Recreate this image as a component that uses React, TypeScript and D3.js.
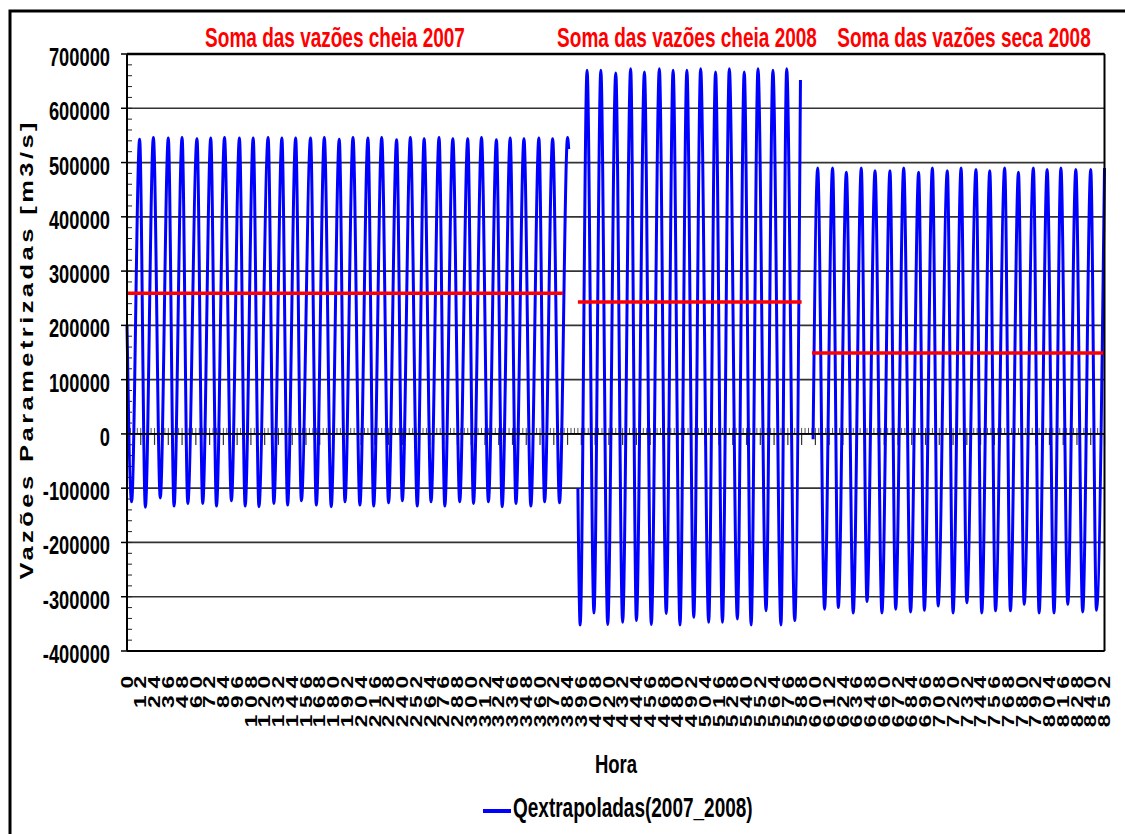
import React from 'react';
import * as d3 from 'd3';

const W = 1125;
const H = 834;
const FONT = '"Liberation Sans", Arial, Helvetica, sans-serif';

// turning points of the hourly flow series (hour, m3/s)
const CHEIA2007_HOURS = [
  0, 4, 11, 16, 23, 29, 36, 41, 48, 53, 61, 66, 73, 78, 85, 91, 98, 103, 110, 115, 123,
  128, 135, 140, 147, 152, 160, 165, 172, 178, 185, 190, 197, 203, 210, 215, 222, 228, 235,
  240, 247, 253, 259, 265, 272, 277, 284, 290, 297, 302, 309, 315, 322, 327, 334, 339, 346,
  352, 359, 364, 371, 377, 384, 385,
];
const CHEIA2007_VALUES = [
  200000, -125000, 543000, -135000, 546000, -118000, 545000, -133000, 546000, -128000, 544000,
  -128000, 545000, -133000, 546000, -123000, 545000, -133000, 545000, -134000, 546000,
  -128000, 545000, -131000, 545000, -123000, 545000, -131000, 546000, -134000, 543000,
  -125000, 546000, -131000, 545000, -133000, 546000, -127000, 542000, -123000, 546000,
  -133000, 544000, -125000, 546000, -133000, 544000, -125000, 544000, -128000, 546000,
  -125000, 542000, -134000, 545000, -128000, 544000, -133000, 545000, -125000, 544000,
  -127000, 546000, 525000,
];

const CHEIA2008_HOURS = [
  393, 395, 401, 407, 413, 419, 426, 432, 439, 444, 451, 457, 464, 470, 476, 482, 488,
  494, 500, 507, 513, 519, 525, 532, 538, 544, 550, 557, 563, 570, 575, 582, 587,
];
const CHEIA2008_VALUES = [
  -100000, -352000, 670000, -330000, 670000, -351000, 665000, -347000, 673000, -344000, 667000,
  -351000, 673000, -331000, 670000, -352000, 670000, -338000, 673000, -347000, 667000,
  -347000, 673000, -341000, 667000, -352000, 673000, -326000, 670000, -352000, 673000,
  -344000, 652000,
];

const SECA2008_HOURS = [
  598, 602, 608, 615, 620, 627, 633, 640, 645, 652, 658, 665, 670, 677, 683, 690, 695, 702,
  707, 715, 720, 727, 732, 740, 745, 752, 757, 765, 770, 777, 782, 790, 795, 802, 808, 814,
  820, 827, 833, 840, 845, 852,
];
const SECA2008_VALUES = [
  -10000, 490000, -323000, 490000, -320000, 482000, -330000, 490000, -309000, 485000, -330000,
  485000, -323000, 490000, -328000, 482000, -325000, 490000, -317000, 485000, -330000,
  490000, -311000, 487000, -330000, 485000, -326000, 490000, -326000, 482000, -314000,
  490000, -330000, 487000, -330000, 490000, -314000, 487000, -328000, 487000, -325000,
  490000,
];

// "Soma das vazões" levels (red lines)
const SOMA_LABELS = ['Soma das vazões cheia 2007', 'Soma das vazões cheia 2008', 'Soma das vazões seca 2008'];
const SOMA_VALUES = [259000, 243000, 149000];
const SOMA_START = [0, 393, 597];
const SOMA_END = [380, 588, 852];

const X_TICKS = [
  0, 12, 24, 36, 48, 60, 72, 84, 96, 108, 120, 132, 144, 156, 168, 180, 192, 204, 216, 228,
  240, 252, 264, 276, 288, 300, 312, 324, 336, 348, 360, 372, 384, 396, 408, 420, 432, 444,
  456, 468, 480, 492, 504, 516, 528, 540, 552, 564, 576, 588, 600, 612, 624, 636, 648, 660,
  672, 684, 696, 708, 720, 732, 744, 756, 768, 780, 792, 804, 816, 828, 840, 852,
];
const Y_TICKS = [700000, 600000, 500000, 400000, 300000, 200000, 100000, 0, -100000, -200000, -300000, -400000];

const SY = 1.42; // the original picture is stretched vertically

function SText({ x, y, size, anchor = 'start', fill = '#000', rotate = false, sy = SY, style, children }: any) {
  const t = rotate
    ? `translate(${x},${y}) scale(1,${sy}) rotate(-90)`
    : `translate(${x},${y}) scale(1,${sy})`;
  return (
    <text transform={t} fontSize={size} fontWeight="bold" fontFamily={FONT} textAnchor={anchor} fill={fill} style={style}>
      {children}
    </text>
  );
}

export default function App() {
  const left = 127, right = 1104.5, top = 54, bottom = 651;
  const x = d3.scaleLinear().domain([0, 852]).range([left, right]);
  const y = d3.scaleLinear().domain([-400000, 700000]).range([bottom, top]);

  const line = d3.line<[number, number]>()
    .x(d => x(d[0]))
    .y(d => y(d[1]))
    .curve(d3.curveMonotoneX);

  const segments = [
    d3.zip(CHEIA2007_HOURS, CHEIA2007_VALUES),
    d3.zip(CHEIA2008_HOURS, CHEIA2008_VALUES),
    d3.zip(SECA2008_HOURS, SECA2008_VALUES),
  ] as [number, number][][];

  const minorY = d3.range(-400000, 700001, 20000);
  const minorX = d3.range(0, 853, 3);
  const titleX = [335, 687, 964];

  return (
    <svg width={W} height={H} style={{ position: 'absolute', left: 0, top: 0, background: '#fff' }}>
      <rect x={10} y={11} width={1200} height={900} fill="none" stroke="#000" strokeWidth={3} />

      {/* gridlines */}
      {Y_TICKS.map(v => (
        <line key={v} x1={left} x2={right} y1={y(v)} y2={y(v)} stroke="#333" strokeWidth={1.7} />
      ))}

      {/* minor y ticks (inside) and major (outside) */}
      {minorY.map(v => (
        <line key={'m' + v} x1={left} x2={left + 5} y1={y(v)} y2={y(v)} stroke="#222" strokeWidth={1} />
      ))}
      {Y_TICKS.map(v => (
        <line key={'t' + v} x1={left - 6} x2={left} y1={y(v)} y2={y(v)} stroke="#000" strokeWidth={1.5} />
      ))}

      {/* category axis ticks on the zero line */}
      {minorX.map(h => (
        <line key={'x' + h} x1={x(h)} x2={x(h)} y1={y(0) - 6} y2={y(0)} stroke="#555" strokeWidth={1} />
      ))}
      {X_TICKS.map(h => (
        <line key={'xt' + h} x1={x(h)} x2={x(h)} y1={y(0)} y2={y(0) + 11} stroke="#333" strokeWidth={1.2} />
      ))}

      {/* series */}
      {segments.map((s, i) => (
        <path key={i} d={line(s) || ''} fill="none" stroke="#0000ff" strokeWidth={3} strokeLinejoin="round" />
      ))}

      {/* sums */}
      {SOMA_VALUES.map((v, i) => (
        <line key={'s' + i} x1={x(SOMA_START[i])} x2={x(SOMA_END[i])} y1={y(v)} y2={y(v)} stroke="#ff0000" strokeWidth={3.5} />
      ))}

      {/* frame of plot area */}
      <line x1={left} x2={right} y1={top} y2={top} stroke="#000" strokeWidth={2.5} />
      <line x1={right} x2={right} y1={top} y2={bottom} stroke="#000" strokeWidth={2} />
      <line x1={left} x2={right} y1={bottom} y2={bottom} stroke="#000" strokeWidth={2} />
      <line x1={left} x2={left} y1={top} y2={bottom} stroke="#000" strokeWidth={2} />
      <line x1={left} x2={right} y1={y(0)} y2={y(0)} stroke="#000" strokeWidth={1.6} />

      {/* y tick labels */}
      {Y_TICKS.map(v => (
        <SText key={'yl' + v} x={110} y={y(v) + 12} size={18.3} anchor="end">{v}</SText>
      ))}

      {/* x tick labels */}
      {X_TICKS.map(h => (
        <SText key={'xl' + h} x={x(h) + 5.7} y={669} size={16} anchor="end" rotate style={{ letterSpacing: '4.8px' }}>
          {h}
        </SText>
      ))}

      {/* titles */}
      {SOMA_LABELS.map((t, i) => (
        <SText key={'ti' + i} x={titleX[i]} y={47} size={19} anchor="middle" fill="#ff0000">{t}</SText>
      ))}

      <text
        transform={`translate(33,351) scale(1,${SY}) rotate(-90)`}
        fontSize={18}
        fontWeight="bold"
        fontFamily={FONT}
        textAnchor="middle"
        textLength={322}
        lengthAdjust="spacing"
      >
        Vazões Parametrizadas [m3/s]
      </text>

      <SText x={616} y={773} size={18.5} anchor="middle">Hora</SText>

      <line x1={483} x2={511} y1={811} y2={811} stroke="#0000ff" strokeWidth={4} />
      <SText x={513} y={817} size={19}>Qextrapoladas(2007_2008)</SText>
    </svg>
  );
}
